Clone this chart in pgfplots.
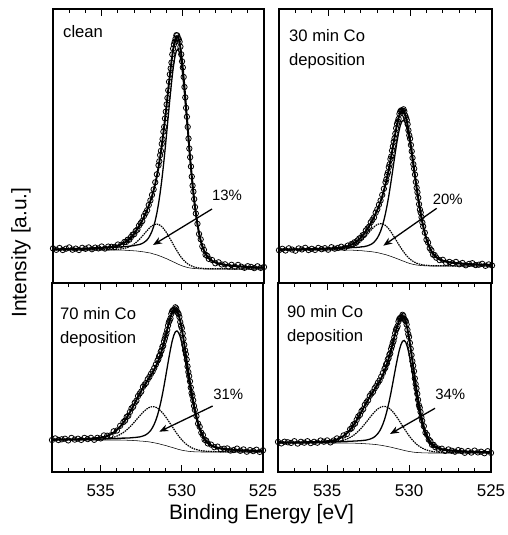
\documentclass[border=0pt]{standalone}
\usepackage{fontspec}
\setmainfont{Liberation Sans}
\usepackage{pgfplots}
\usepackage{pgfplotstable}
\usetikzlibrary{arrows.meta}
\pgfplotsset{compat=1.18}

% columns: binding energy, measured points, total fit, main O1s, shoulder, background
\pgfplotstableread{
E dat fit main comp bg
538.0 34.6 33.8 33.8 33.0 33.0
537.8 33.2 33.8 33.8 33.0 33.0
537.6 35.0 33.8 33.8 33.0 33.0
537.4 33.0 34.0 33.9 33.1 33.0
537.2 34.3 34.0 33.9 33.1 33.0
537.0 35.6 34.1 34.0 33.1 33.0
536.8 33.3 34.1 34.0 33.1 33.0
536.6 34.4 34.2 34.1 33.1 33.0
536.4 33.0 34.3 34.2 33.1 33.0
536.2 35.2 34.3 34.2 33.1 33.0
536.0 34.2 34.4 34.3 33.1 33.0
535.8 35.6 34.5 34.4 33.1 33.0
535.6 33.8 34.7 34.5 33.2 33.0
535.4 35.4 34.9 34.7 33.2 33.0
535.2 34.6 35.0 34.8 33.2 33.0
535.0 36.5 35.2 34.9 33.2 33.0
534.8 34.4 35.5 35.1 33.3 33.0
534.6 36.4 35.8 35.3 33.3 33.0
534.4 36.2 36.2 35.5 33.4 33.0
534.2 36.1 36.8 35.7 33.6 33.0
534.0 38.5 37.5 35.9 33.8 33.0
533.8 38.2 38.7 36.1 34.1 32.9
533.6 41.0 40.4 36.4 34.7 32.8
533.5 41.0 41.4 36.5 35.1 32.7
533.4 43.3 42.5 36.6 35.6 32.6
533.3 43.3 44.0 36.8 36.2 32.5
533.2 45.9 45.6 37.0 37.0 32.4
533.1 48.3 47.4 37.2 37.9 32.3
533.0 48.8 49.3 37.4 39.0 32.2
532.9 52.1 51.7 37.8 40.3 32.1
532.8 53.3 54.1 38.1 41.7 31.9
532.7 57.4 56.7 38.4 43.3 31.7
532.6 59.8 59.6 38.9 45.0 31.5
532.5 62.0 62.6 39.6 46.8 31.3
532.4 66.9 65.9 40.5 48.7 31.1
532.3 69.9 69.4 41.7 50.6 30.8
532.2 72.8 73.1 43.2 52.4 30.5
532.1 78.0 77.2 45.3 54.2 30.2
532.0 82.6 82.0 48.3 55.9 30.0
531.9 88.1 86.9 51.8 57.1 29.5
531.8 93.6 92.7 56.4 58.1 29.0
531.7 100.7 99.2 62.4 58.6 28.5
531.6 108.7 106.9 69.9 58.9 28.1
531.5 117.7 115.7 79.0 58.5 27.5
531.4 127.9 125.7 89.8 57.7 26.9
531.3 139.1 137.1 102.4 56.4 26.3
531.2 151.3 149.8 116.7 54.7 25.6
531.1 164.5 163.5 132.4 52.5 24.9
531.0 178.6 178.1 149.3 50.2 24.3
530.9 192.7 193.2 166.7 47.5 23.5
530.8 208.7 207.9 183.9 44.6 22.7
530.7 220.4 221.6 200.1 41.8 22.0
530.6 234.3 233.3 214.3 38.8 21.2
530.5 241.3 241.9 225.3 36.0 20.5
530.4 247.8 246.4 232.1 33.2 19.7
530.3 245.2 246.2 233.9 30.5 18.9
530.2 241.2 240.5 230.2 28.0 18.2
530.1 228.7 229.6 221.0 25.7 17.5
530.0 215.5 214.3 207.2 23.7 16.9
529.9 196.0 196.0 190.2 22.0 16.4
529.8 175.1 175.9 171.2 20.5 15.9
529.7 156.1 155.2 151.4 19.2 15.5
529.6 134.4 134.8 131.8 18.1 15.1
529.5 116.5 115.9 113.5 17.3 14.9
529.4 97.4 98.5 96.6 16.6 14.7
529.3 83.9 83.1 81.6 16.0 14.5
529.2 69.5 70.0 68.8 15.6 14.4
529.1 59.2 58.9 57.9 15.3 14.3
529.0 49.0 49.9 49.1 15.0 14.2
528.9 43.7 42.6 41.9 14.8 14.1
528.8 36.7 37.0 36.4 14.7 14.1
528.7 33.2 32.5 32.0 14.5 14.0
528.6 28.2 29.2 28.8 14.4 14.0
528.5 27.2 26.7 26.3 14.4 14.0
528.4 24.1 24.7 24.4 14.3 14.0
528.2 23.0 22.3 22.0 14.3 14.0
528.0 19.7 20.6 20.4 14.2 14.0
527.8 20.7 19.5 19.3 14.2 14.0
527.6 18.5 18.8 18.6 14.2 14.0
527.4 18.7 18.2 18.0 14.2 14.0
527.2 16.5 17.7 17.6 14.1 14.0
527.0 18.2 17.3 17.2 14.1 14.0
526.8 16.3 16.9 16.8 14.1 14.0
526.6 18.1 16.7 16.6 14.1 14.0
526.4 16.3 16.5 16.4 14.1 14.0
526.2 15.2 16.2 16.1 14.1 14.0
526.0 16.8 16.0 15.9 14.1 14.0
525.8 16.1 15.9 15.8 14.1 14.0
525.6 14.9 15.7 15.6 14.1 14.0
525.4 16.7 15.6 15.5 14.1 14.0
525.2 15.1 15.5 15.4 14.1 14.0
525.0 16.0 15.4 15.3 14.1 14.0
}\clean

\pgfplotstableread{
E dat
531.45 121.7
531.35 132.1
531.25 143.9
531.15 156.1
531.05 171.3
530.95 185.0
530.85 201.2
530.75 214.6
530.65 228.6
530.55 238.6
530.45 244.2
530.35 247.6
530.25 243.6
530.15 236.3
530.05 221.6
529.95 206.0
529.85 185.6
529.75 166.2
529.65 144.4
529.55 125.8
529.45 106.4
529.35 91.4
529.25 75.9
}\cleanx

\pgfplotstableread{
E dat fit main comp bg
538.0 32.8 33.6 33.5 33.1 33.0
537.8 34.2 33.6 33.5 33.1 33.0
537.6 32.5 33.7 33.6 33.1 33.0
537.4 34.7 33.7 33.6 33.1 33.0
537.2 33.4 33.7 33.6 33.1 33.0
537.0 32.3 33.8 33.7 33.1 33.0
536.8 34.6 33.8 33.7 33.1 33.0
536.6 33.6 33.8 33.7 33.1 33.0
536.4 35.2 33.9 33.8 33.1 33.0
536.2 33.0 33.9 33.8 33.1 33.0
536.0 34.2 34.0 33.9 33.1 33.0
535.8 33.1 34.2 34.0 33.2 33.0
535.6 35.1 34.2 34.0 33.2 33.0
535.4 33.8 34.3 34.1 33.2 33.0
535.2 34.8 34.4 34.2 33.2 33.0
535.0 33.3 34.6 34.3 33.3 33.0
534.8 35.8 34.7 34.4 33.3 33.0
534.6 34.3 34.9 34.5 33.4 33.0
534.4 35.1 35.1 34.6 33.5 33.0
534.2 36.3 35.6 34.8 33.8 33.0
534.0 35.2 36.2 35.0 34.2 33.0
533.8 37.4 36.9 35.1 34.7 32.9
533.6 38.8 38.2 35.3 35.7 32.8
533.5 38.7 39.1 35.5 36.4 32.8
533.4 40.7 39.9 35.5 37.1 32.7
533.3 40.3 41.0 35.6 38.0 32.6
533.2 42.6 42.3 35.7 39.1 32.5
533.1 44.6 43.7 35.8 40.3 32.4
533.0 45.1 45.6 36.1 41.9 32.4
532.9 47.8 47.4 36.2 43.4 32.2
532.8 48.6 49.4 36.4 45.0 32.0
532.7 52.5 51.8 36.8 46.9 31.9
532.6 54.5 54.3 37.2 48.8 31.7
532.5 56.3 56.9 37.8 50.7 31.6
532.4 60.7 59.7 38.5 52.6 31.4
532.3 63.2 62.7 39.5 54.4 31.2
532.2 65.6 65.9 40.8 56.0 30.9
532.1 70.3 69.5 42.7 57.5 30.7
532.0 73.7 73.1 45.0 58.5 30.4
531.9 78.3 77.1 48.0 59.1 30.0
531.8 82.5 81.6 51.8 59.4 29.6
531.7 88.1 86.6 56.6 59.2 29.2
531.6 94.2 92.4 62.6 58.6 28.8
531.5 100.7 98.7 69.6 57.5 28.4
531.4 108.1 105.9 77.8 56.0 27.9
531.3 115.8 113.8 87.0 54.1 27.3
531.2 123.9 122.4 97.3 51.9 26.8
531.1 132.4 131.4 108.2 49.4 26.2
531.0 141.2 140.7 119.5 46.8 25.6
530.9 149.3 149.8 130.7 44.1 25.0
530.8 159.1 158.3 141.2 41.5 24.4
530.7 164.1 165.3 150.3 38.7 23.7
530.6 171.4 170.4 157.4 36.1 23.1
530.5 172.3 172.9 161.7 33.6 22.4
530.4 173.7 172.3 162.8 31.3 21.8
530.3 167.6 168.6 160.7 29.1 21.2
530.2 162.9 162.2 155.6 27.1 20.5
530.1 152.7 153.6 148.2 25.4 20.0
530.0 144.3 143.1 138.7 23.8 19.4
529.9 131.7 131.7 128.1 22.6 19.0
529.8 118.8 119.6 116.7 21.5 18.6
529.7 108.4 107.5 105.2 20.6 18.3
529.6 95.2 95.6 93.8 19.8 18.0
529.5 85.2 84.6 83.1 19.3 17.8
529.4 73.3 74.4 73.2 18.8 17.6
529.3 65.8 65.0 64.1 18.3 17.4
529.2 56.5 57.0 56.2 18.1 17.3
529.1 50.3 50.0 49.4 17.8 17.2
529.0 43.3 44.2 43.7 17.7 17.2
528.9 40.4 39.3 38.8 17.6 17.1
528.8 34.9 35.2 34.8 17.4 17.0
528.7 32.7 32.0 31.6 17.4 17.0
528.6 28.4 29.4 29.1 17.3 17.0
528.5 27.9 27.4 27.1 17.3 17.0
528.4 25.3 25.9 25.6 17.3 17.0
528.2 22.9 23.6 23.4 17.2 17.0
528.0 23.2 22.3 22.1 17.2 17.0
527.8 20.2 21.4 21.2 17.2 17.0
527.6 21.1 20.8 20.6 17.2 17.0
527.4 19.7 20.2 20.1 17.1 17.0
527.2 21.1 19.9 19.8 17.1 17.0
527.0 18.7 19.6 19.5 17.1 17.0
526.8 20.0 19.4 19.3 17.1 17.0
526.6 17.7 19.1 19.0 17.1 17.0
526.4 19.1 18.9 18.8 17.1 17.0
526.2 19.8 18.8 18.7 17.1 17.0
526.0 17.9 18.7 18.6 17.1 17.0
525.8 18.3 18.5 18.4 17.1 17.0
525.6 19.2 18.4 18.3 17.1 17.0
525.4 17.2 18.3 18.2 17.1 17.0
525.2 18.6 18.2 18.1 17.1 17.0
525.0 17.5 18.1 18.0 17.1 17.0
}\thirty

\pgfplotstableread{
E dat
531.45 103.6
531.35 110.6
531.25 118.7
531.15 126.5
531.05 136.6
530.95 144.6
530.85 154.8
530.75 161.5
530.65 169.1
530.55 172.6
530.45 172.4
530.35 171.6
530.25 165.3
530.15 158.8
530.05 147.7
529.95 138.0
529.85 125.1
529.75 114.3
529.65 101.1
529.55 90.7
529.45 78.8
529.35 70.4
529.25 60.4
}\thirtyx

\pgfplotstableread{
E dat fit main comp bg
538.0 32.0 32.5 32.4 32.1 32.0
537.8 33.6 32.6 32.4 32.2 32.0
537.6 32.0 32.7 32.5 32.2 32.0
537.4 32.7 32.7 32.5 32.2 32.0
537.2 33.3 32.7 32.5 32.2 32.0
537.0 31.6 32.7 32.5 32.2 32.0
536.8 34.1 32.8 32.6 32.2 32.0
536.6 32.4 32.8 32.6 32.2 32.0
536.4 33.3 32.8 32.6 32.2 32.0
536.2 32.1 33.0 32.7 32.3 32.0
536.0 34.1 33.0 32.7 32.3 32.0
535.8 32.9 33.1 32.8 32.3 32.0
535.6 34.2 33.3 32.8 32.4 32.0
535.4 32.2 33.5 32.9 32.4 32.0
535.2 34.2 34.0 33.0 32.6 32.0
535.0 33.6 34.4 33.1 32.7 32.0
534.8 36.6 35.1 33.1 33.0 32.0
534.6 36.3 36.0 33.2 33.3 32.0
534.4 36.6 37.6 33.4 33.9 32.0
534.2 40.7 39.5 33.5 34.7 32.0
534.0 41.5 42.1 33.6 35.9 32.0
533.8 46.2 45.4 33.8 37.5 32.0
533.6 50.0 49.4 33.9 39.5 31.9
533.5 51.4 51.8 33.9 40.7 31.8
533.4 55.1 54.3 34.0 42.1 31.8
533.3 56.2 56.9 34.0 43.5 31.7
533.2 60.0 59.7 34.1 45.0 31.6
533.1 63.7 62.8 34.3 46.8 31.6
533.0 65.2 65.7 34.4 48.5 31.5
532.9 69.3 68.9 34.5 50.4 31.4
532.8 71.3 72.1 34.7 52.3 31.3
532.7 75.9 75.2 34.9 54.2 31.2
532.6 78.4 78.2 35.1 56.0 31.0
532.5 80.5 81.1 35.5 57.8 30.9
532.4 85.1 84.1 36.0 59.6 30.8
532.3 87.3 86.8 36.6 61.1 30.6
532.2 89.1 89.4 37.4 62.5 30.4
532.1 92.8 92.0 38.6 63.7 30.3
532.0 95.1 94.5 40.1 64.6 30.1
531.9 98.2 97.0 42.0 65.1 29.8
531.8 100.6 99.7 44.6 65.3 29.5
531.7 104.0 102.5 47.8 65.2 29.2
531.6 107.6 105.8 51.9 64.7 28.9
531.5 111.3 109.3 56.7 63.8 28.5
531.4 115.8 113.6 62.7 62.7 28.2
531.3 120.3 118.3 69.5 61.1 27.7
531.2 125.2 123.7 77.3 59.4 27.3
531.1 130.7 129.7 85.9 57.4 26.9
531.0 136.6 136.1 95.1 55.3 26.5
530.9 142.1 142.6 104.6 52.9 26.0
530.8 149.8 149.0 114.0 50.5 25.5
530.7 153.6 154.8 122.8 48.0 25.0
530.6 160.5 159.5 130.6 45.6 24.6
530.5 161.9 162.5 136.5 43.1 24.1
530.4 164.7 163.3 140.2 40.6 23.6
530.3 160.6 161.6 141.1 38.3 23.1
530.2 158.0 157.3 139.3 36.0 22.6
530.1 150.0 150.9 135.2 34.0 22.2
530.0 143.9 142.7 129.1 32.1 21.8
529.9 133.0 133.0 121.3 30.4 21.5
529.8 121.6 122.4 112.5 28.8 21.2
529.7 112.4 111.5 103.1 27.5 21.0
529.6 100.0 100.4 93.4 26.2 20.7
529.5 90.7 90.1 84.1 25.3 20.6
529.4 78.9 80.0 75.1 24.3 20.4
529.3 71.7 70.9 66.8 23.6 20.3
529.2 62.1 62.6 59.3 22.9 20.2
529.1 55.9 55.6 52.8 22.5 20.2
529.0 48.4 49.3 47.0 22.0 20.1
528.9 45.2 44.1 42.2 21.7 20.1
528.8 39.3 39.6 38.1 21.3 20.0
528.7 36.9 36.2 34.9 21.1 20.0
528.6 32.3 33.3 32.2 21.0 20.0
528.5 31.5 31.0 30.1 20.8 20.0
528.4 28.6 29.2 28.5 20.7 20.0
528.2 27.4 26.8 26.2 20.6 20.0
528.0 24.8 25.2 24.8 20.4 20.0
527.8 25.4 24.3 23.9 20.4 20.0
527.6 22.8 23.6 23.3 20.3 20.0
527.4 23.3 23.1 22.8 20.3 20.0
527.2 23.6 22.8 22.5 20.3 20.0
527.0 21.4 22.4 22.2 20.2 20.0
526.8 22.0 22.2 22.0 20.2 20.0
526.6 23.4 22.0 21.8 20.2 20.0
526.4 21.2 21.8 21.6 20.2 20.0
526.2 22.6 21.7 21.5 20.2 20.0
526.0 20.3 21.5 21.3 20.2 20.0
525.8 21.9 21.4 21.2 20.2 20.0
525.6 20.9 21.2 21.1 20.1 20.0
525.4 22.3 21.1 21.0 20.1 20.0
525.2 20.1 21.0 20.9 20.1 20.0
525.0 21.7 21.0 20.9 20.1 20.0
}\seventy

\pgfplotstableread{
E dat
531.45 112.7
531.35 116.8
531.25 121.6
531.15 126.2
531.05 133.4
530.95 138.7
530.85 146.5
530.75 151.5
530.65 158.1
530.55 161.8
530.45 162.6
530.35 163.6
530.25 159.3
530.15 155.0
530.05 146.2
529.95 138.5
529.85 127.2
529.75 117.8
529.65 105.6
529.55 95.9
529.45 84.4
529.35 76.2
529.25 66.1
}\seventyx

\pgfplotstableread{
E dat fit main comp bg
538.0 30.1 29.6 29.4 29.2 29.0
537.8 28.6 29.6 29.4 29.2 29.0
537.6 30.3 29.6 29.4 29.2 29.0
537.4 29.7 29.7 29.5 29.2 29.0
537.2 29.1 29.7 29.5 29.2 29.0
537.0 30.8 29.7 29.5 29.2 29.0
536.8 28.4 29.7 29.5 29.2 29.0
536.6 30.2 29.8 29.6 29.2 29.0
536.4 29.3 29.8 29.6 29.2 29.0
536.2 30.8 29.9 29.6 29.3 29.0
536.0 28.9 30.0 29.7 29.3 29.0
535.8 30.2 30.0 29.7 29.3 29.0
535.6 29.3 30.2 29.8 29.4 29.0
535.4 31.5 30.2 29.8 29.4 29.0
535.2 30.3 30.5 29.9 29.5 29.0
535.0 31.6 30.8 30.0 29.6 29.0
534.8 29.6 31.1 30.1 29.7 29.0
534.6 31.5 31.8 30.2 30.0 29.0
534.4 33.6 32.6 30.3 30.3 29.0
534.2 32.8 34.0 30.4 30.9 29.0
534.0 36.6 36.0 30.5 31.8 29.0
533.8 37.9 38.7 30.6 33.0 29.0
533.6 42.8 42.2 30.7 34.5 28.9
533.5 43.9 44.3 30.8 35.5 28.9
533.4 47.4 46.6 30.9 36.5 28.8
533.3 48.4 49.1 31.0 37.8 28.8
533.2 52.1 51.8 31.0 39.2 28.7
533.1 55.6 54.7 31.2 40.8 28.7
533.0 57.1 57.6 31.3 42.4 28.6
532.9 61.0 60.6 31.4 44.2 28.5
532.8 62.8 63.6 31.6 46.1 28.4
532.7 67.2 66.5 31.7 48.1 28.3
532.6 69.7 69.5 32.0 50.1 28.2
532.5 71.8 72.4 32.4 52.2 28.1
532.4 76.1 75.1 32.8 54.3 28.0
532.3 78.4 77.9 33.5 56.4 27.9
532.2 80.1 80.4 34.2 58.3 27.7
532.1 83.7 82.9 35.3 60.2 27.6
532.0 86.1 85.5 36.8 61.8 27.4
531.9 89.3 88.1 38.6 63.2 27.2
531.8 91.6 90.7 40.9 64.2 26.9
531.7 95.3 93.8 44.0 65.1 26.7
531.6 99.0 97.2 47.8 65.5 26.4
531.5 103.0 101.0 52.4 65.6 26.1
531.4 107.7 105.5 58.0 65.3 25.8
531.3 112.5 110.5 64.5 64.6 25.5
531.2 117.5 116.0 71.7 63.5 25.1
531.1 123.1 122.1 79.8 62.1 24.8
531.0 129.0 128.5 88.4 60.4 24.4
530.9 134.6 135.1 97.3 58.4 24.0
530.8 142.2 141.4 106.1 56.2 23.6
530.7 145.9 147.1 114.3 53.8 23.2
530.6 152.8 151.8 121.6 51.3 22.8
530.5 154.2 154.8 127.2 48.7 22.4
530.4 157.2 155.8 130.7 46.1 22.0
530.3 153.3 154.3 131.6 43.5 21.6
530.2 150.8 150.1 129.7 41.0 21.2
530.1 142.2 143.1 125.0 38.6 20.9
530.0 135.1 133.9 117.9 36.2 20.5
529.9 123.2 123.2 109.2 34.1 20.3
529.8 110.8 111.6 99.4 32.1 20.0
529.7 100.8 99.9 89.3 30.3 19.8
529.6 87.9 88.3 79.3 28.6 19.6
529.5 78.2 77.6 69.9 27.2 19.5
529.4 66.8 67.9 61.3 26.0 19.4
529.3 60.0 59.2 53.6 24.9 19.3
529.2 51.2 51.7 47.0 23.9 19.2
529.1 45.8 45.5 41.5 23.2 19.2
529.0 39.3 40.2 36.9 22.4 19.1
528.9 37.2 36.1 33.3 21.9 19.1
528.8 32.4 32.7 30.4 21.3 19.0
528.7 30.8 30.1 28.2 20.9 19.0
528.6 27.2 28.2 26.6 20.6 19.0
528.5 27.1 26.6 25.3 20.3 19.0
528.4 24.8 25.4 24.3 20.1 19.0
528.2 23.3 23.9 23.1 19.8 19.0
528.0 23.3 22.9 22.3 19.6 19.0
527.8 21.1 22.2 21.7 19.5 19.0
527.6 22.6 21.8 21.4 19.4 19.0
527.4 21.3 21.5 21.1 19.4 19.0
527.2 20.3 21.1 20.8 19.3 19.0
527.0 21.9 20.9 20.6 19.3 19.0
526.8 21.0 20.8 20.5 19.3 19.0
526.6 19.2 20.6 20.3 19.3 19.0
526.4 21.0 20.4 20.2 19.2 19.0
526.2 19.4 20.3 20.1 19.2 19.0
526.0 21.4 20.2 20.0 19.2 19.0
525.8 19.6 20.1 19.9 19.2 19.0
525.6 20.3 20.0 19.8 19.2 19.0
525.4 18.8 20.0 19.8 19.2 19.0
525.2 20.8 19.9 19.7 19.2 19.0
525.0 19.1 19.8 19.6 19.2 19.0
}\ninety

\pgfplotstableread{
E dat
531.45 104.4
531.35 108.7
531.25 113.8
531.15 118.6
531.05 125.7
530.95 131.0
530.85 138.8
530.75 143.8
530.65 150.5
530.55 154.0
530.45 155.0
530.35 156.2
530.25 151.9
530.15 147.5
530.05 137.9
529.95 129.1
529.85 116.9
529.75 106.3
529.65 93.6
529.55 83.6
529.45 72.2
529.35 64.3
529.25 54.8
}\ninetyx

\pgfplotsset{
  xps/.style={
    scale only axis, anchor=south west,
    x dir=reverse, xmin=525, xmax=538, ymin=0,
    ytick=\empty,
    xtick={525,530,535},
    minor xtick={526,527,528,529,531,532,533,534,536,537},
    tick align=inside,
    major tick length=7bp, minor tick length=4bp,
    axis line style={line width=1.3bp},
    every tick/.style={black, line width=1bp},
    /pgf/number format/assume math mode=true,
    xticklabel style={font=\fontsize{17}{20}\selectfont, yshift=-9bp},
  },
  toprow/.style={xps, height=274bp, ymax=274, xtick pos=right, xticklabels={}},
  botrow/.style={xps, height=189bp, ymax=189, xtick pos=both, xticklabel pos=left,
    xticklabels={525,530,535}},
  pts/.style={only marks, mark=o, mark size=2.7bp, mark options={line width=0.8bp, black}},
  fitl/.style={no marks, black, line width=1.9bp},
  mainl/.style={no marks, black, line width=1.3bp},
  compl/.style={no marks, black, line width=1.2bp, dash pattern=on 1.5bp off 0.9bp},
  bgl/.style={no marks, black, line width=0.55bp},
}

\newcommand{\spectrum}[2]{%
  \addplot[bgl] table[x=E, y=bg] {#1};
  \addplot[compl] table[x=E, y=comp] {#1};
  \addplot[mainl] table[x=E, y=main] {#1};
  \addplot[pts] table[x=E, y=dat] {#1};
  \addplot[pts] table[x=E, y=dat] {#2};
  \addplot[fitl] table[x=E, y=fit] {#1};
}

\begin{document}
\begin{tikzpicture}
\useasboundingbox (0,0) rectangle (508bp,-535bp);

\begin{axis}[toprow, at={(53bp,-283bp)}, width=211bp]
\spectrum{\clean}{\cleanx}
\end{axis}

\begin{axis}[toprow, at={(279bp,-283bp)}, width=213bp]
\spectrum{\thirty}{\thirtyx}
\end{axis}

\begin{axis}[botrow, at={(52bp,-472bp)}, width=211bp]
\spectrum{\seventy}{\seventyx}
\end{axis}

\begin{axis}[botrow, at={(278bp,-472bp)}, width=213bp]
\spectrum{\ninety}{\ninetyx}
\end{axis}

\tikzset{lab/.style={anchor=base west, inner sep=0pt, font=\fontsize{16.7}{20}\selectfont},
  pct/.style={anchor=base, inner sep=0pt, font=\fontsize{15}{18}\selectfont},
  arr/.style={-{Stealth[length=9bp, width=7bp]}, line width=1.3bp}}

\node[lab] at (63bp,-37bp) {clean};
\node[lab] at (289bp,-41.7bp) {30 min Co};
\node[lab] at (289bp,-65bp) {deposition};
\node[lab] at (60bp,-319.3bp) {70 min Co};
\node[lab] at (60bp,-343bp) {deposition};
\node[lab] at (287bp,-317.3bp) {90 min Co};
\node[lab] at (287bp,-341bp) {deposition};

\node[pct] at (227bp,-200bp) {13\%};
\node[pct] at (447.7bp,-204bp) {20\%};
\node[pct] at (228.3bp,-399bp) {31\%};
\node[pct] at (450.3bp,-399bp) {34\%};
\draw[arr] (212bp,-209bp) -- (153bp,-245bp);
\draw[arr] (436.7bp,-208.3bp) -- (383.3bp,-245.7bp);
\draw[arr] (212.7bp,-406bp) -- (159.3bp,-431.7bp);
\draw[arr] (435bp,-408.3bp) -- (390bp,-434bp);

\node[rotate=90, font=\fontsize{21}{24}\selectfont] at (21bp,-252.5bp) {Intensity [a.u.]};
\node[anchor=base, font=\fontsize{21}{24}\selectfont] at (261.5bp,-519bp) {Binding Energy [eV]};
\end{tikzpicture}
\end{document}
